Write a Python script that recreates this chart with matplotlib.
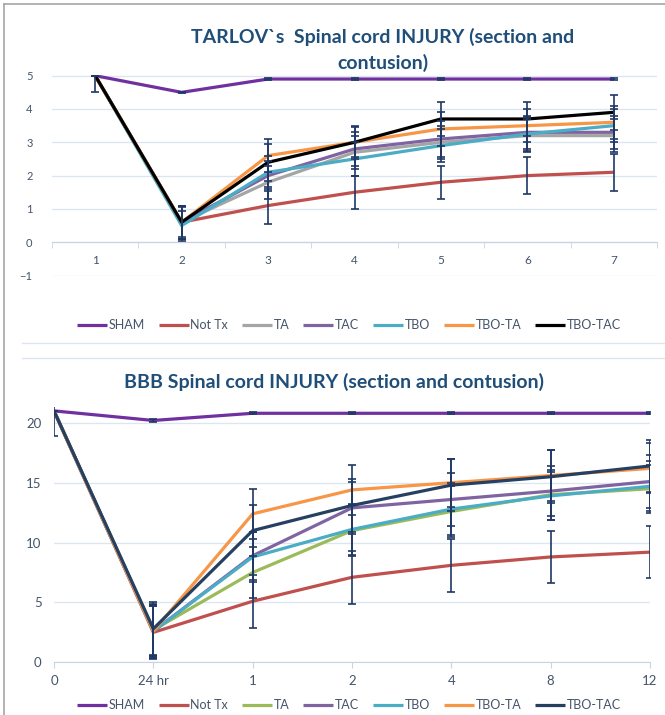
import matplotlib
matplotlib.use('Agg')
import matplotlib.pyplot as plt
from matplotlib.lines import Line2D

plt.rcParams['font.family'] = ['Lato', 'DejaVu Sans']

# Top chart: Tarlov score
names = ['SHAM', 'Not Tx', 'TA', 'TAC', 'TBO', 'TBO-TA', 'TBO-TAC']
tarlov_days = [1, 2, 3, 4, 5, 6, 7]
tarlov_sham = [5, 4.5, 4.9, 4.9, 4.9, 4.9, 4.9]
tarlov_nottx = [5, 0.6, 1.1, 1.5, 1.8, 2.0, 2.1]
tarlov_ta = [5, 0.6, 1.8, 2.7, 3.0, 3.2, 3.2]
tarlov_tac = [5, 0.6, 2.0, 2.8, 3.1, 3.3, 3.3]
tarlov_tbo = [5, 0.5, 2.1, 2.5, 2.9, 3.25, 3.5]
tarlov_tbota = [5, 0.6, 2.6, 3.0, 3.4, 3.5, 3.6]
tarlov_tbotac = [5, 0.6, 2.4, 3.0, 3.7, 3.7, 3.9]
tarlov_err_sham = [0.5, 0.02, 0.02, 0.02, 0.02, 0.02, 0.02]
tarlov_err_nottx = [0, 0.5, 0.55, 0.5, 0.5, 0.55, 0.55]
tarlov_err_ta = [0, 0.5, 0.5, 0.5, 0.5, 0.5, 0.5]
tarlov_err_tac = [0, 0.45, 0.45, 0.5, 0.55, 0.5, 0.5]
tarlov_err_tbo = [0, 0.45, 0.5, 0.5, 0.5, 0.5, 0.5]
tarlov_err_tbota = [0, 0.5, 0.5, 0.45, 0.5, 0.5, 0.5]
tarlov_err_tbotac = [0, 0.5, 0.55, 0.5, 0.52, 0.5, 0.52]

# Bottom chart: BBB score
bbb_times = ['0', '24 hr', '1', '2', '4', '8', '12']
bbb_sham = [21, 20.2, 20.8, 20.8, 20.8, 20.8, 20.8]
bbb_nottx = [21, 2.5, 5.1, 7.1, 8.1, 8.8, 9.2]
bbb_ta = [21, 2.7, 7.5, 11.0, 12.6, 14.0, 14.5]
bbb_tac = [21, 2.6, 8.9, 12.9, 13.6, 14.3, 15.1]
bbb_tbo = [21, 2.6, 8.8, 11.1, 12.8, 13.9, 14.7]
bbb_tbota = [21, 2.6, 12.4, 14.4, 15.0, 15.6, 16.2]
bbb_tbotac = [21, 2.8, 11.0, 13.1, 14.8, 15.5, 16.4]
bbb_err_sham = [2.1, 0.1, 0.1, 0.1, 0.1, 0.1, 0.1]
bbb_err_nottx = [0, 2.2, 2.2, 2.2, 2.2, 2.2, 2.2]
bbb_err_ta = [0, 2.2, 2.1, 2.1, 2.1, 2.1, 2.0]
bbb_err_tac = [0, 2.2, 2.0, 2.2, 2.2, 2.1, 2.2]
bbb_err_tbo = [0, 2.1, 2.1, 2.1, 2.2, 2.0, 2.1]
bbb_err_tbota = [0, 2.2, 2.1, 2.1, 2.0, 2.1, 2.1]
bbb_err_tbotac = [0, 2.2, 2.15, 2.2, 2.2, 2.2, 2.2]

top_colors = ['#7030A0', '#C0504D', '#A5A5A5', '#8064A2', '#4BACC6', '#F79646', '#000000']
bot_colors = ['#7030A0', '#C0504D', '#9BBB59', '#8064A2', '#4BACC6', '#F79646', '#254061']
err_color = '#1F3864'
grid_color = '#DCE6F2'
label_color = '#44546A'
title_color = '#1F4E79'

W, H = 665, 715
fig = plt.figure(figsize=(W / 100, H / 100), dpi=100)


def rect(x0, y0, x1, y1):
    # pixel box (top-left origin) -> figure fraction
    return [x0 / W, 1 - y1 / H, (x1 - x0) / W, (y1 - y0) / H]


def draw(ax, x, series, errs, colors):
    for ys, c, lab in zip(series, colors, names):
        ax.plot(x, ys, color=c, lw=2.3, label=lab, zorder=2, solid_capstyle='butt')
    for ys, e in zip(series, errs):
        ax.errorbar(x, ys, yerr=e, fmt='none', ecolor=err_color, elinewidth=1.2,
                    capsize=3, capthick=1.2, zorder=3)


def style(ax):
    ax.grid(axis='y', color=grid_color, lw=1)
    ax.set_axisbelow(True)
    for s in ['top', 'right', 'left']:
        ax.spines[s].set_visible(False)
    ax.spines['bottom'].set_color('#C8D4E3')
    ax.tick_params(axis='y', length=0, labelsize=8, labelcolor=label_color, pad=14)
    ax.tick_params(axis='x', which='both', colors='#C8D4E3', labelcolor=label_color,
                   labelsize=8.5, direction='out')


def legend(ax, ypix):
    h, l = ax.get_legend_handles_labels()
    fig.legend(h, l, loc='center', bbox_to_anchor=(349 / W, 1 - ypix / H), ncol=7,
               frameon=False, fontsize=9, handlelength=2.4, columnspacing=1.1,
               handletextpad=0.15, labelcolor=label_color)


# --- top chart ---
ax1 = fig.add_axes(rect(52, 74.7, 657, 275.5))
draw(ax1, tarlov_days,
     [tarlov_sham, tarlov_nottx, tarlov_ta, tarlov_tac, tarlov_tbo, tarlov_tbota, tarlov_tbotac],
     [tarlov_err_sham, tarlov_err_nottx, tarlov_err_ta, tarlov_err_tac, tarlov_err_tbo,
      tarlov_err_tbota, tarlov_err_tbotac], top_colors)
ax1.set_xlim(0.5, 7.5)
ax1.set_ylim(-1, 5.03)
ax1.set_yticks(range(-1, 6))
ax1.set_xticks(tarlov_days)
ax1.set_xticks([i + 0.5 for i in range(0, 8)], minor=True)
ax1.spines['bottom'].set_position(('data', 0))
style(ax1)
ax1.tick_params(axis='x', which='major', length=0, pad=9)
ax1.tick_params(axis='x', which='minor', length=4)

fig.text(383 / W, 1 - 37 / H, 'TARLOV`s  Spinal cord INJURY (section and', ha='center', va='center',
         fontsize=14, fontweight='bold', color=title_color)
fig.text(383 / W, 1 - 63 / H, 'contusion)', ha='center', va='center',
         fontsize=14, fontweight='bold', color=title_color)
legend(ax1, 325)

# --- bottom chart ---
ax2 = fig.add_axes(rect(54, 407.3, 650, 662.3))
xb = list(range(len(bbb_times)))
draw(ax2, xb,
     [bbb_sham, bbb_nottx, bbb_ta, bbb_tac, bbb_tbo, bbb_tbota, bbb_tbotac],
     [bbb_err_sham, bbb_err_nottx, bbb_err_ta, bbb_err_tac, bbb_err_tbo,
      bbb_err_tbota, bbb_err_tbotac], bot_colors)
ax2.set_xlim(0, 6)
ax2.set_ylim(0, 21.3)
ax2.set_yticks([0, 5, 10, 15, 20])
ax2.set_xticks(xb)
ax2.set_xticklabels(bbb_times)
style(ax2)
ax2.tick_params(axis='x', length=4, pad=5)
ax2.tick_params(axis='y', pad=9)
for t in ax2.get_xticklabels() + ax2.get_yticklabels():
    t.set_fontsize(9.5)

fig.text(334 / W, 1 - 382 / H, 'BBB Spinal cord INJURY (section and contusion)', ha='center',
         va='center', fontsize=14, fontweight='bold', color=title_color)
legend(ax2, 705)

# chart area borders
fig.add_artist(Line2D([4 / W, 1], [1 - 4 / H, 1 - 4 / H], color='#A6A6A6', lw=1.2))
fig.add_artist(Line2D([4 / W, 4 / W], [0, 1 - 4 / H], color='#A6A6A6', lw=1.2))
fig.add_artist(Line2D([22 / W, 1], [1 - 343 / H, 1 - 343 / H], color=grid_color, lw=1))
fig.add_artist(Line2D([22 / W, 1], [1 - 358 / H, 1 - 358 / H], color=grid_color, lw=1))

fig.savefig('out.png', dpi=100)
